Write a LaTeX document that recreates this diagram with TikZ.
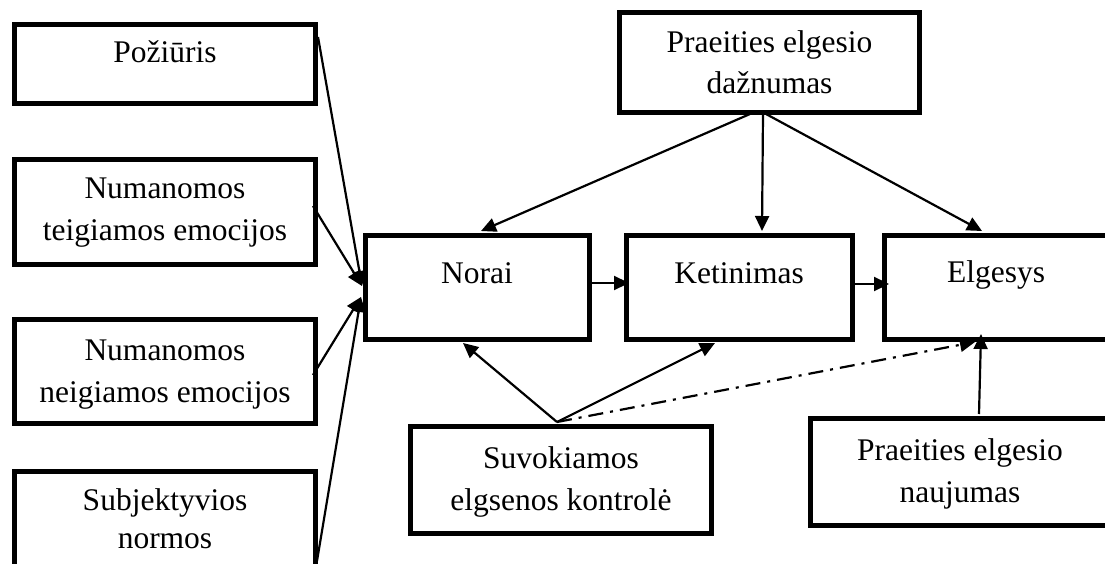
\documentclass[tikz,border=0pt]{standalone}
\usepackage{fontspec}
\setmainfont{Liberation Serif}
\usetikzlibrary{arrows.meta}

\tikzset{
  box/.style={draw=black, line width=5pt, rectangle, inner sep=0pt,
    outer sep=0pt, anchor=north west},
  lbl/.style={anchor=base, inner sep=0pt, font=\fontsize{31.5}{42}\selectfont},
  link/.style={draw=black, line width=2.2pt,
    -{Triangle[length=15pt,width=14pt]}},
  dashdot/.style={dash pattern=on 15pt off 7pt on 3pt off 7pt}
}

\begin{document}
\begin{tikzpicture}[x=1pt, y=-1pt]
\useasboundingbox (0,0) rectangle (1105,564);
\clip (0,0) rectangle (1105,564);

% left column of factors
\node[box, minimum width=301pt, minimum height=79pt]    (poz)  at (14.5,24.5)  {};
\node[box, minimum width=301pt, minimum height=105pt]   (teig) at (14.5,159.5) {};
\node[box, minimum width=301pt, minimum height=103.5pt] (neig) at (14.5,319.5) {};
\node[box, minimum width=301pt, minimum height=120pt]   (subj) at (14.5,471)   {};

% central chain
\node[box, minimum width=224.5pt, minimum height=104pt] (norai) at (365,235) {};
\node[box, minimum width=226.5pt, minimum height=104pt] (ket)   at (626,235) {};
\node[box, minimum width=226pt,   minimum height=104pt] (elg)   at (884,235) {};

% top and bottom factors
\node[box, minimum width=300pt, minimum height=100.5pt] (daz)  at (619.5,12.5)  {};
\node[box, minimum width=301pt, minimum height=107pt]   (suv)  at (410.5,426.5) {};
\node[box, minimum width=300pt, minimum height=107pt]   (nauj) at (810.5,418.5) {};

% texts
\node[lbl] (poz-t)   at (165,63)  {Požiūris};
\node[lbl] (teig-t1) at (165,198) {Numanomos};
\node[lbl] (teig-t2) at (165,240) {teigiamos emocijos};
\node[lbl] (neig-t1) at (165,360) {Numanomos};
\node[lbl] (neig-t2) at (165,402) {neigiamos emocijos};
\node[lbl] (subj-t1) at (165,510) {Subjektyvios};
\node[lbl] (subj-t2) at (165,548) {normos};
\node[lbl] (norai-t) at (477,283) {Norai};
\node[lbl] (ket-t)   at (739,283) {Ketinimas};
\node[lbl] (elg-t)   at (996,282) {Elgesys};
\node[lbl] (daz-t1)  at (769.5,53) {Praeities elgesio};
\node[lbl] (daz-t2)  at (769.5,94) {dažnumas};
\node[lbl] (suv-t1)  at (561,468) {Suvokiamos};
\node[lbl] (suv-t2)  at (561,510) {elgsenos kontrolė};
\node[lbl] (nauj-t1) at (960,460) {Praeities elgesio};
\node[lbl] (nauj-t2) at (960,502) {naujumas};

% factors converging on Norai
\draw[link] ([xshift=2.5pt,yshift=-12.5pt]poz.north east)  -- ([xshift=-3pt,yshift=-51pt]norai.north west);
\draw[link] ([xshift=-2.5pt,yshift=-46.5pt]teig.north east) -- ([xshift=-3pt,yshift=-51pt]norai.north west);
\draw[link] ([xshift=-2.5pt,yshift=-55.5pt]neig.north east) -- ([xshift=-4pt,yshift=-62pt]norai.north west);
\draw[link] ([xshift=1.5pt,yshift=-90pt]subj.north east)    -- ([xshift=-4pt,yshift=-62pt]norai.north west);

% past frequency
\draw[link] ([xshift=130.5pt,yshift=-1pt]daz.south west) -- ([xshift=116pt,yshift=4pt]norai.north west);
\draw[link] ([xshift=143.5pt,yshift=-1pt]daz.south west) -- ([xshift=136pt,yshift=4pt]ket.north west);
\draw[link] ([xshift=146.5pt,yshift=-1pt]daz.south west) -- ([xshift=98pt,yshift=4pt]elg.north west);

% main chain
\draw[link] ([xshift=2.5pt,yshift=-48pt]norai.north east) -- ([xshift=3pt,yshift=-48pt]ket.north west);
\draw[link] ([xshift=2.5pt,yshift=-49pt]ket.north east)   -- ([xshift=5pt,yshift=-49pt]elg.north west);

% perceived control
\draw[link] ([xshift=146.5pt,yshift=4.5pt]suv.north west) -- ([xshift=98pt,yshift=-4pt]norai.south west);
\draw[link] ([xshift=146.5pt,yshift=4.5pt]suv.north west) -- ([xshift=89pt,yshift=-4pt]ket.south west);
\draw[link, dashdot] ([xshift=146.5pt,yshift=4.5pt]suv.north west) -- ([xshift=91pt,yshift=-3pt]elg.south west);

% past novelty
\draw[link] ([xshift=168.5pt,yshift=4.5pt]nauj.north west) -- ([xshift=97pt,yshift=5pt]elg.south west);
\end{tikzpicture}
\end{document}
